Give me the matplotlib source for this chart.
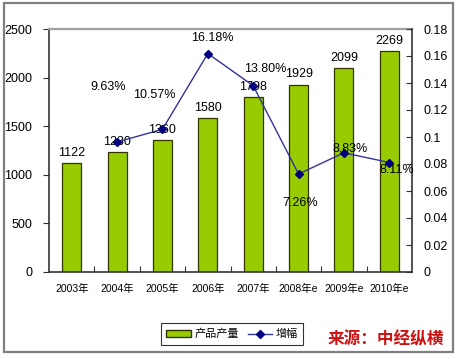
import matplotlib
matplotlib.use("Agg")
import matplotlib.pyplot as plt
from matplotlib.patches import Rectangle
from matplotlib.lines import Line2D
from matplotlib.patches import Patch

plt.rcParams['font.family'] = ['Liberation Sans', 'Noto Sans CJK SC', 'DejaVu Sans']

categories = ["2003年", "2004年", "2005年", "2006年", "2007年", "2008年e", "2009年e", "2010年e"]
output = [1122, 1230, 1360, 1580, 1798, 1929, 2099, 2269]
growth = [None, 0.0963, 0.1057, 0.1618, 0.1380, 0.0726, 0.0883, 0.0811]
growth_labels = ["", "9.63%", "10.57%", "16.18%", "13.80%", "7.26%", "8.83%", "8.11%"]
# label anchor positions (category offset, value) as placed in the original chart
growth_label_pos = [None, (0.80, 0.137), (1.83, 0.131), (3.09, 0.173), (4.26, 0.150),
                    (5.03, 0.051), (6.13, 0.091), (7.17, 0.0756)]

fig = plt.figure(figsize=(4.59, 3.59), dpi=100)
fig.patches.append(Rectangle((4/459, 7/359), 449/459, 349/359, transform=fig.transFigure,
                             fill=False, edgecolor='#808080', lw=1.6))

ax = fig.add_axes([49/459, 87/359, 363/459, 243/359])
x = list(range(len(categories)))
ax.bar(x, output, width=0.42, color='#99CC00', edgecolor='#333300', lw=0.9, zorder=2)
ax.set_xlim(-0.5, len(categories) - 0.5)
ax.set_ylim(0, 2500)
ax.set_yticks(range(0, 2501, 500))
ax.set_xticks([i + 0.5 for i in x[:-1]], minor=False)
ax.set_xticklabels([])
ax.tick_params(axis='x', direction='in', length=4, width=0.8, color='#333333')
ax.tick_params(axis='y', direction='out', length=4, width=0.8, labelsize=9, pad=8, color='#333333')
for i, c in enumerate(categories):
    ax.text(i, -0.07, c, transform=ax.get_xaxis_transform(), ha='center', va='center', fontsize=7.5)
for i, v in enumerate(output):
    ax.annotate(str(v), (i, v), xytext=(0, 3), textcoords='offset points',
                ha='center', va='bottom', fontsize=9, zorder=5)
for s in ['left', 'bottom']:
    ax.spines[s].set_color('#333333')
    ax.spines[s].set_linewidth(1.2)
ax.spines['top'].set_color('#A0A0A0')
ax.spines['top'].set_linewidth(1.6)
ax.spines['right'].set_visible(False)

ax2 = ax.twinx()
ax2.set_ylim(0, 0.18)
yt = [0, 0.02, 0.04, 0.06, 0.08, 0.1, 0.12, 0.14, 0.16, 0.18]
ax2.set_yticks(yt)
ax2.set_yticklabels(["0" if t == 0 else ("%g" % t) for t in yt])
ax2.tick_params(axis='y', direction='in', length=4, width=0.8, labelsize=9, pad=8, color='#333333')
gx = [i for i, g in enumerate(growth) if g is not None]
gy = [g for g in growth if g is not None]
ax2.plot(gx, gy, color='#333399', lw=1.0, marker='D', ms=4, mfc='#000080', mec='#000080', zorder=4)
for lab, pos in zip(growth_labels, growth_label_pos):
    if pos is None:
        continue
    ax2.text(pos[0], pos[1], lab, ha='center', va='center', fontsize=9, zorder=6)
ax2.spines['right'].set_color('#333333')
ax2.spines['right'].set_linewidth(1.2)
ax2.spines['top'].set_visible(False)
ax2.spines['left'].set_visible(False)
ax2.spines['bottom'].set_visible(False)

handles = [Patch(facecolor='#99CC00', edgecolor='#333300', label='产品产量'),
           Line2D([], [], color='#333399', lw=1.0, marker='D', ms=4, mfc='#000080', mec='#000080', label='增幅')]
leg = fig.legend(handles=handles, loc='center', bbox_to_anchor=(232/459, 1 - 334/359), ncol=2,
                 fontsize=8, frameon=True, fancybox=False, edgecolor='black', handlelength=2.2,
                 handleheight=0.6, columnspacing=0.8, handletextpad=0.3, borderpad=0.5)
leg.get_frame().set_linewidth(0.8)

fig.text(386/459, 1 - 339/359, "来源：中经纵横", ha='center', va='center', fontsize=12,
         color='#CC1111', fontweight='bold', style='italic',
         family=['Noto Sans CJK SC', 'DejaVu Sans'])

fig.savefig("out.png", dpi=100)
